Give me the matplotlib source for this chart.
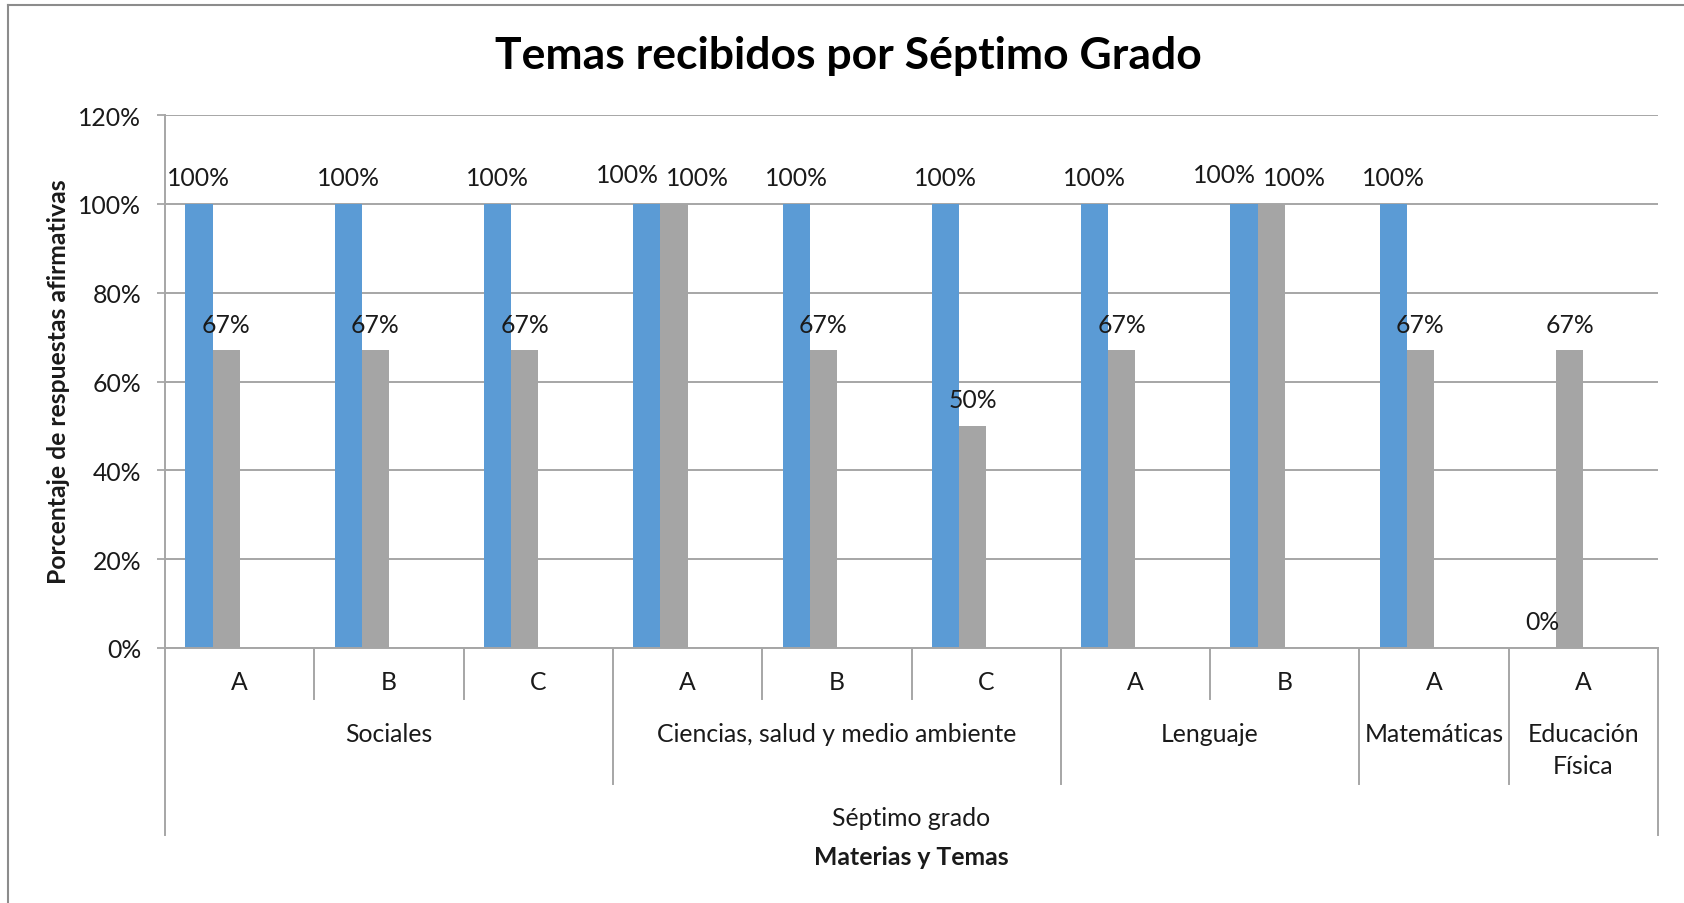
import matplotlib
matplotlib.use("Agg")
import matplotlib.pyplot as plt
from matplotlib.lines import Line2D
import numpy as np

plt.rcParams['font.family'] = ['Lato', 'DejaVu Sans']

# ---------------- data ----------------
temas = ["A", "B", "C", "A", "B", "C", "A", "B", "A", "A"]
materias = ["Sociales", "Ciencias, salud y medio ambiente", "Lenguaje",
            "Matemáticas", "Educación\nFísica"]
materia_sizes = [3, 3, 2, 1, 1]
grado = "Séptimo grado"
serie_azul = [1.00, 1.00, 1.00, 1.00, 1.00, 1.00, 1.00, 1.00, 1.00, 0.00]
serie_gris = [0.67, 0.67, 0.67, 1.00, 0.67, 0.50, 0.67, 1.00, 0.67, 0.67]
yticks = [0, 0.2, 0.4, 0.6, 0.8, 1.0, 1.2]

title = "Temas recibidos por Séptimo Grado"
ylabel = "Porcentaje de respuestas afirmativas"
xlabel = "Materias y Temas"

BLUE = "#5B9BD5"
GRAY = "#A5A5A5"
GRID = "#A6A6A6"
TXT = "#1a1a1a"
FS = 17.8

W, H = 1684, 904
fig = plt.figure(figsize=(W / 100, H / 100), dpi=100)

left, right, bottom, top = 165, 1658, 649, 116
ax = fig.add_axes([left / W, 1 - bottom / H, (right - left) / W, (bottom - top) / H])
ax_h = bottom - top

def ay(py):
    return (bottom - py) / ax_h

n = len(temas)
x = np.arange(n)
bw = 1 / 5.5
ax.bar(x - 1.5 * bw, serie_azul, width=bw, color=BLUE, zorder=3)
ax.bar(x - 0.5 * bw, serie_gris, width=bw, color=GRAY, zorder=3)

ax.set_xlim(-0.5, n - 0.5)
ax.set_ylim(0, 1.2)
ax.set_yticks(yticks)
ax.set_yticklabels([f"{int(round(v * 100))}%" for v in yticks], fontsize=FS, color=TXT)
ax.tick_params(axis='y', length=6, width=1.3, color=GRID, pad=11, direction='out')
ax.set_xticks([])
ax.grid(axis='y', color=GRID, linewidth=1.4, zorder=0)
for s in ['top', 'right']:
    ax.spines[s].set_visible(False)
for s in ['left', 'bottom']:
    ax.spines[s].set_color(GRID)
    ax.spines[s].set_linewidth(1.4)
ax.spines['bottom'].set_zorder(4)

# data labels
lab_off = 19
for i in range(n):
    bx = x[i] - 1.5 * bw
    gx = x[i] - 0.5 * bw
    both = serie_azul[i] == serie_gris[i]
    dxb, dyb = (-14, 2) if both else (0, 0)
    dxg = 17 if both else 0
    ax.annotate(f"{int(round(serie_azul[i] * 100))}%", (bx, serie_azul[i]),
                xytext=(dxb, lab_off + dyb), textcoords='offset points',
                ha='center', va='center', fontsize=FS, color=TXT, zorder=5)
    ax.annotate(f"{int(round(serie_gris[i] * 100))}%", (gx, serie_gris[i]),
                xytext=(dxg, lab_off), textcoords='offset points',
                ha='center', va='center', fontsize=FS, color=TXT, zorder=5)

# multi-level category axis
tr = ax.get_xaxis_transform()
y_in, y_grp, y_out = ay(700), ay(785), ay(836)
for i in range(n):
    ax.text(x[i], ay(683), temas[i], transform=tr, ha='center', va='center',
            fontsize=FS, color=TXT)
# separators
bounds = np.cumsum([0] + materia_sizes)
group_edges = set(bounds.tolist())
for b in range(n + 1):
    xb = b - 0.5
    if b == 0 or b == n:
        y_end = y_out
    elif b in group_edges:
        y_end = y_grp
    else:
        y_end = y_in
    ax.add_line(Line2D([xb, xb], [0, y_end], transform=tr, color=GRID,
                       linewidth=1.4, clip_on=False))
for g, name in enumerate(materias):
    xc = (bounds[g] + bounds[g + 1] - 1) / 2
    for k, line in enumerate(name.split("\n")):
        ax.text(xc, ay(735 + 32 * k), line, transform=tr, ha='center',
                va='center', fontsize=FS, color=TXT)
ax.text((n - 1) / 2, ay(819), grado, transform=tr, ha='center', va='center',
        fontsize=FS, color=TXT)
ax.text((n - 1) / 2, ay(858), xlabel, transform=tr, ha='center', va='center',
        fontsize=FS, fontweight='bold', color=TXT)

fig.text(59 / W, 1 - 382 / H, ylabel, rotation=90, ha='center', va='center',
         fontsize=FS, fontweight='bold', color=TXT)
fig.text(848 / W, 1 - 56 / H, title, ha='center', va='center', fontsize=32,
         fontweight='bold', color='black')

# chart border
bx0, by0 = 8 / W, 1 - 6 / H
fig.add_artist(Line2D([bx0, bx0], [0, by0], transform=fig.transFigure,
                      color="#8c8c8c", linewidth=1.5))
fig.add_artist(Line2D([bx0, 1], [by0, by0], transform=fig.transFigure,
                      color="#8c8c8c", linewidth=1.5))

fig.savefig("out.png", dpi=100)
